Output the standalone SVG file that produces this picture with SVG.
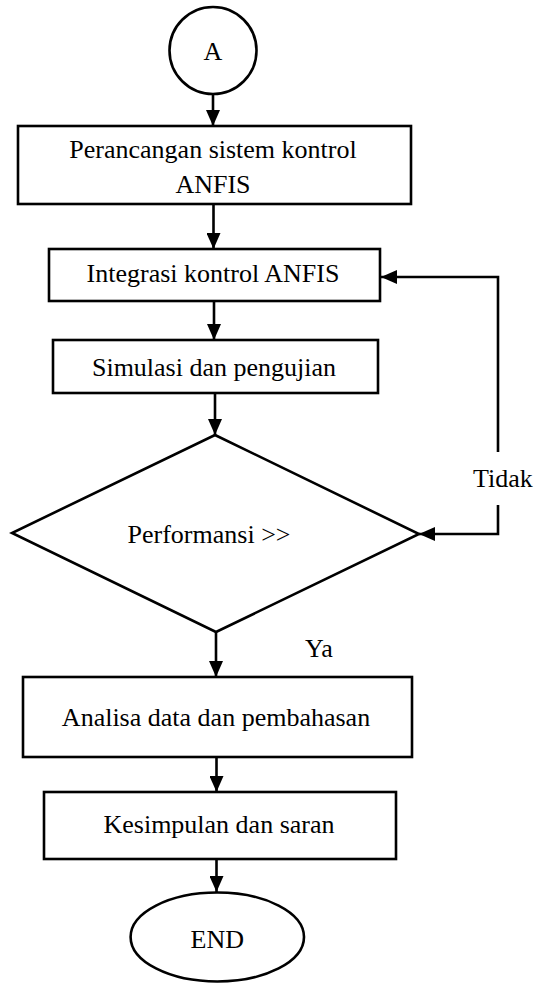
<svg xmlns="http://www.w3.org/2000/svg" width="537" height="983" viewBox="0 0 537 983">
  <style>
    .shape { fill: #ffffff; stroke: #000000; stroke-width: 2.6; }
    .wire { fill: none; stroke: #000000; stroke-width: 2.6; }
    .label { font-family: "Liberation Serif", "Times New Roman", serif; font-size: 26px; fill: #000000; }
    .mid { text-anchor: middle; }
  </style>
  <defs>
    <marker id="arrow" viewBox="0 0 16 14" refX="16" refY="7" markerWidth="16" markerHeight="14" markerUnits="userSpaceOnUse" orient="auto">
      <path d="M0,0 L16,7 L0,14 Z" fill="#000000"/>
    </marker>
  </defs>

  <rect width="537" height="983" fill="#ffffff"/>

  <!-- connectors -->
  <g id="connectors">
    <line class="wire" x1="213" y1="94" x2="213" y2="126" marker-end="url(#arrow)"/>
    <line class="wire" x1="213.5" y1="204" x2="213.5" y2="249" marker-end="url(#arrow)"/>
    <line class="wire" x1="214" y1="301" x2="214" y2="340" marker-end="url(#arrow)"/>
    <line class="wire" x1="215" y1="393" x2="215" y2="435" marker-end="url(#arrow)"/>
    <line class="wire" x1="216" y1="632" x2="216" y2="677" marker-end="url(#arrow)"/>
    <line class="wire" x1="216.5" y1="757" x2="216.5" y2="792" marker-end="url(#arrow)"/>
    <line class="wire" x1="216.5" y1="859" x2="216.5" y2="892" marker-end="url(#arrow)"/>
    <!-- feedback loop on the "Tidak" branch -->
    <polyline class="wire" points="498,452 498,277 381,277" marker-end="url(#arrow)"/>
    <polyline class="wire" points="498,505 498,534 419,534" marker-end="url(#arrow)"/>
    <text class="label" x="473" y="487">Tidak</text>
    <text class="label" x="305" y="657">Ya</text>
  </g>

  <g id="start-a">
    <circle class="shape" cx="213" cy="50.5" r="43.5"/>
    <text class="label mid" x="213" y="60">A</text>
  </g>

  <g id="perancangan">
    <rect class="shape" x="18" y="126" width="393" height="78"/>
    <text class="label mid" x="213" y="158">Perancangan sistem kontrol</text>
    <text class="label mid" x="213" y="193">ANFIS</text>
  </g>

  <g id="integrasi">
    <rect class="shape" x="49" y="249" width="331" height="52"/>
    <text class="label mid" x="213" y="282">Integrasi kontrol ANFIS</text>
  </g>

  <g id="simulasi">
    <rect class="shape" x="53" y="340" width="325" height="53"/>
    <text class="label mid" x="214" y="376">Simulasi dan pengujian</text>
  </g>

  <g id="performansi">
    <polygon class="shape" points="215,435 419,534 216,632 12,533"/>
    <text class="label mid" x="209" y="543">Performansi &gt;&gt;</text>
  </g>

  <g id="analisa">
    <rect class="shape" x="23" y="677" width="389" height="80"/>
    <text class="label mid" x="216" y="726">Analisa data dan pembahasan</text>
  </g>

  <g id="kesimpulan">
    <rect class="shape" x="44" y="792" width="352" height="67"/>
    <text class="label mid" x="219" y="833">Kesimpulan dan saran</text>
  </g>

  <g id="end">
    <ellipse class="shape" cx="217.3" cy="937" rx="86.7" ry="44.5"/>
    <text class="label mid" x="217.3" y="948">END</text>
  </g>
</svg>
